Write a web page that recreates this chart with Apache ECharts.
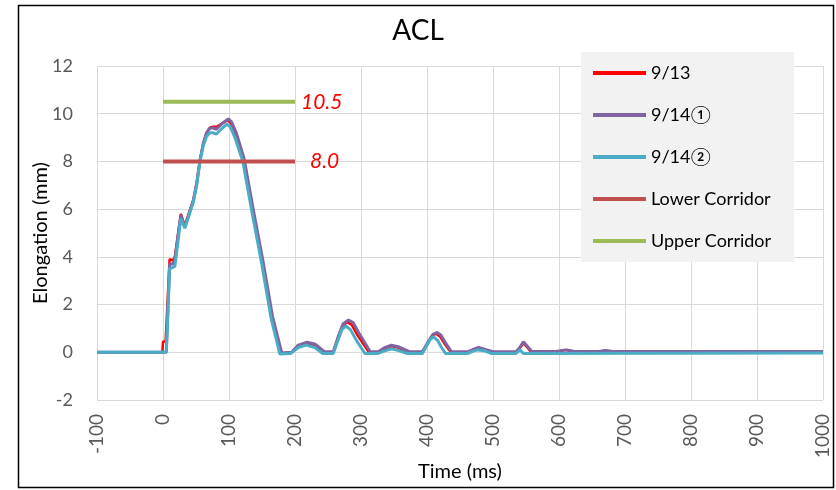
<!DOCTYPE html>
<html>
<head>
<meta charset="utf-8">
<style>
  html, body { margin: 0; padding: 0; background: #fff; }
  #chart { width: 836px; height: 490px; }
</style>
<script src="https://cdn.jsdelivr.net/npm/echarts@6/dist/echarts.min.js"></script>
</head>
<body>
<div id="chart"></div>
<script>
// values, [time (ms), elongation (mm)]
var seriesNames = ['9/13', '9/14①', '9/14②', 'Lower Corridor', 'Upper Corridor']

var data913 = [[-100,0],[-1,0],[0,0.45],[4,0.45],[10,3.9],[15,3.85],[18,4.0],[27,5.8],[33,5.3],[40,5.9],[46,6.4],
  [51,7.1],[56,8.05],[61,8.75],[66,9.2],[71,9.42],[76,9.45],[81,9.45],[90,9.6],[98,9.72],[103,9.6],[110,9.15],
  [121,8.05],[134,6.1],[149,3.9],[164,1.5],[178,-0.05],[195,0],[205,0.28],[218,0.37],[230,0.3],[243,0],[258,0],
  [266,0.6],[272,1.1],[279,1.27],[286,1.15],[295,0.7],[312,0],[326,0],[335,0.15],[346,0.25],[356,0.2],[372,0],
  [393,0],[402,0.4],[408,0.7],[414,0.78],[420,0.65],[428,0.3],[436,0],[462,0],[470,0.1],[478,0.18],[488,0.1],
  [500,0],[535,0],[540,0.15],[546,0.38],[552,0.2],[558,0],[595,0],[602,0.05],[610,0.1],[620,0.03],[660,0.02],
  [670,0.07],[680,0.02],[1000,0.01]]

var data914a = [[-100,0],[5,0],[10,3.7],[15,3.7],[18,3.9],[27,5.75],[33,5.25],[40,5.85],[46,6.35],[51,7.05],
  [56,8.05],[61,8.75],[66,9.2],[71,9.4],[76,9.4],[81,9.35],[90,9.6],[99,9.78],[104,9.65],[111,9.2],[123,8.1],
  [136,6.1],[151,3.9],[166,1.5],[180,-0.03],[195,0],[205,0.3],[218,0.42],[230,0.35],[245,0.02],[258,0.02],
  [266,0.7],[273,1.2],[281,1.35],[288,1.25],[297,0.8],[314,0.02],[326,0.02],[335,0.18],[346,0.3],[358,0.22],
  [374,0.02],[393,0.02],[402,0.45],[409,0.75],[415,0.83],[421,0.72],[429,0.35],[437,0.02],[462,0.02],[470,0.12],
  [478,0.2],[488,0.12],[500,0.02],[535,0.02],[540,0.18],[546,0.44],[552,0.25],[559,0.03],[595,0.03],[605,0.08],
  [612,0.1],[622,0.04],[660,0.03],[670,0.08],[680,0.04],[1000,0.03]]

var data914b = [[-100,0],[5,0],[10,3.5],[13,3.58],[18,3.6],[27,5.6],[33,5.2],[40,5.8],[46,6.3],[51,7.0],
  [56,8.0],[61,8.65],[66,9.05],[71,9.2],[76,9.2],[81,9.15],[90,9.4],[97,9.56],[102,9.45],[109,9.0],[121,8.0],
  [134,6.0],[149,3.8],[164,1.4],[177,-0.07],[193,-0.05],[205,0.2],[217,0.3],[230,0.2],[242,-0.05],[258,-0.05],
  [265,0.5],[271,0.95],[277,1.1],[284,0.95],[293,0.5],[306,-0.05],[326,-0.05],[335,0.05],[346,0.15],[356,0.08],
  [370,-0.05],[393,-0.05],[400,0.3],[405,0.55],[410,0.64],[416,0.5],[422,0.2],[428,-0.05],[462,-0.05],[470,0.05],
  [478,0.1],[488,0.05],[497,-0.05],[535,-0.05],[541,0.1],[546,-0.05],[1000,-0.03]]

var lowerCorridor = [[0,8.0],[200,8.0]]
var upperCorridor = [[0,10.5],[200,10.5]]
var corridorLabels = ['8.0', '10.5']

var font = 'Lato, "Noto Sans CJK JP", sans-serif'

function endLabel(text, dist) {
  return {
    show: true, distance: dist, formatter: text,
    color: '#ff0000', fontStyle: 'italic', fontSize: 21, fontFamily: font
  }
}

var chart = echarts.init(document.getElementById('chart'))
chart.setOption({
  animation: false,
  backgroundColor: '#fff',
  title: {
    text: 'ACL',
    left: 'center',
    top: 12,
    textStyle: { fontFamily: font, fontSize: 28, fontWeight: 'normal', color: '#000' }
  },
  graphic: [{
    type: 'rect',
    shape: { x: 18.5, y: 5.5, width: 815, height: 482 },
    style: { fill: null, stroke: '#000', lineWidth: 1.5 },
    silent: true
  }],
  legend: {
    data: seriesNames,
    orient: 'vertical',
    left: 581,
    top: 52,
    backgroundColor: '#f2f2f2',
    padding: [11, 23, 11, 12],
    itemGap: 22,
    itemWidth: 53,
    itemHeight: 4,
    icon: 'rect',
    textStyle: { fontFamily: font, fontSize: 18, color: '#000', lineHeight: 20 }
  },
  grid: { left: 97, right: 13, top: 66, bottom: 90 },
  xAxis: {
    type: 'value',
    min: -100,
    max: 1000,
    interval: 100,
    name: 'Time (ms)',
    nameLocation: 'middle',
    nameGap: 62,
    nameMoveOverlap: false,
    nameTextStyle: { fontFamily: font, fontSize: 20, color: '#000' },
    axisLine: { show: false },
    axisTick: { show: false },
    axisLabel: {
      rotate: 90, margin: 14, fontFamily: font, fontSize: 19, color: '#595959',
      formatter: function (v) { return String(v) }
    },
    splitLine: { show: true, lineStyle: { color: '#d9d9d9', width: 1 } }
  },
  yAxis: {
    type: 'value',
    min: -2,
    max: 12,
    interval: 2,
    name: 'Elongation (mm)',
    nameLocation: 'middle',
    nameGap: 46,
    nameMoveOverlap: false,
    nameTextStyle: { fontFamily: font, fontSize: 20, color: '#000' },
    axisLine: { show: false },
    axisTick: { show: false },
    axisLabel: { margin: 24, fontFamily: font, fontSize: 18, color: '#595959' },
    splitLine: { show: true, lineStyle: { color: '#d9d9d9', width: 1 } }
  },
  series: [
    { name: seriesNames[0], type: 'line', data: data913, showSymbol: false, color: '#ff0000', lineStyle: { width: 2.5 } },
    { name: seriesNames[1], type: 'line', data: data914a, showSymbol: false, color: '#8064a2', lineStyle: { width: 3 } },
    { name: seriesNames[2], type: 'line', data: data914b, showSymbol: false, color: '#4bacc6', lineStyle: { width: 3 } },
    { name: seriesNames[3], type: 'line', data: lowerCorridor, showSymbol: false, color: '#c0504d',
      lineStyle: { width: 4 }, endLabel: endLabel(corridorLabels[0], 15) },
    { name: seriesNames[4], type: 'line', data: upperCorridor, showSymbol: false, color: '#9bbb59',
      lineStyle: { width: 4 }, endLabel: endLabel(corridorLabels[1], 6) }
  ]
})
</script>
</body>
</html>
